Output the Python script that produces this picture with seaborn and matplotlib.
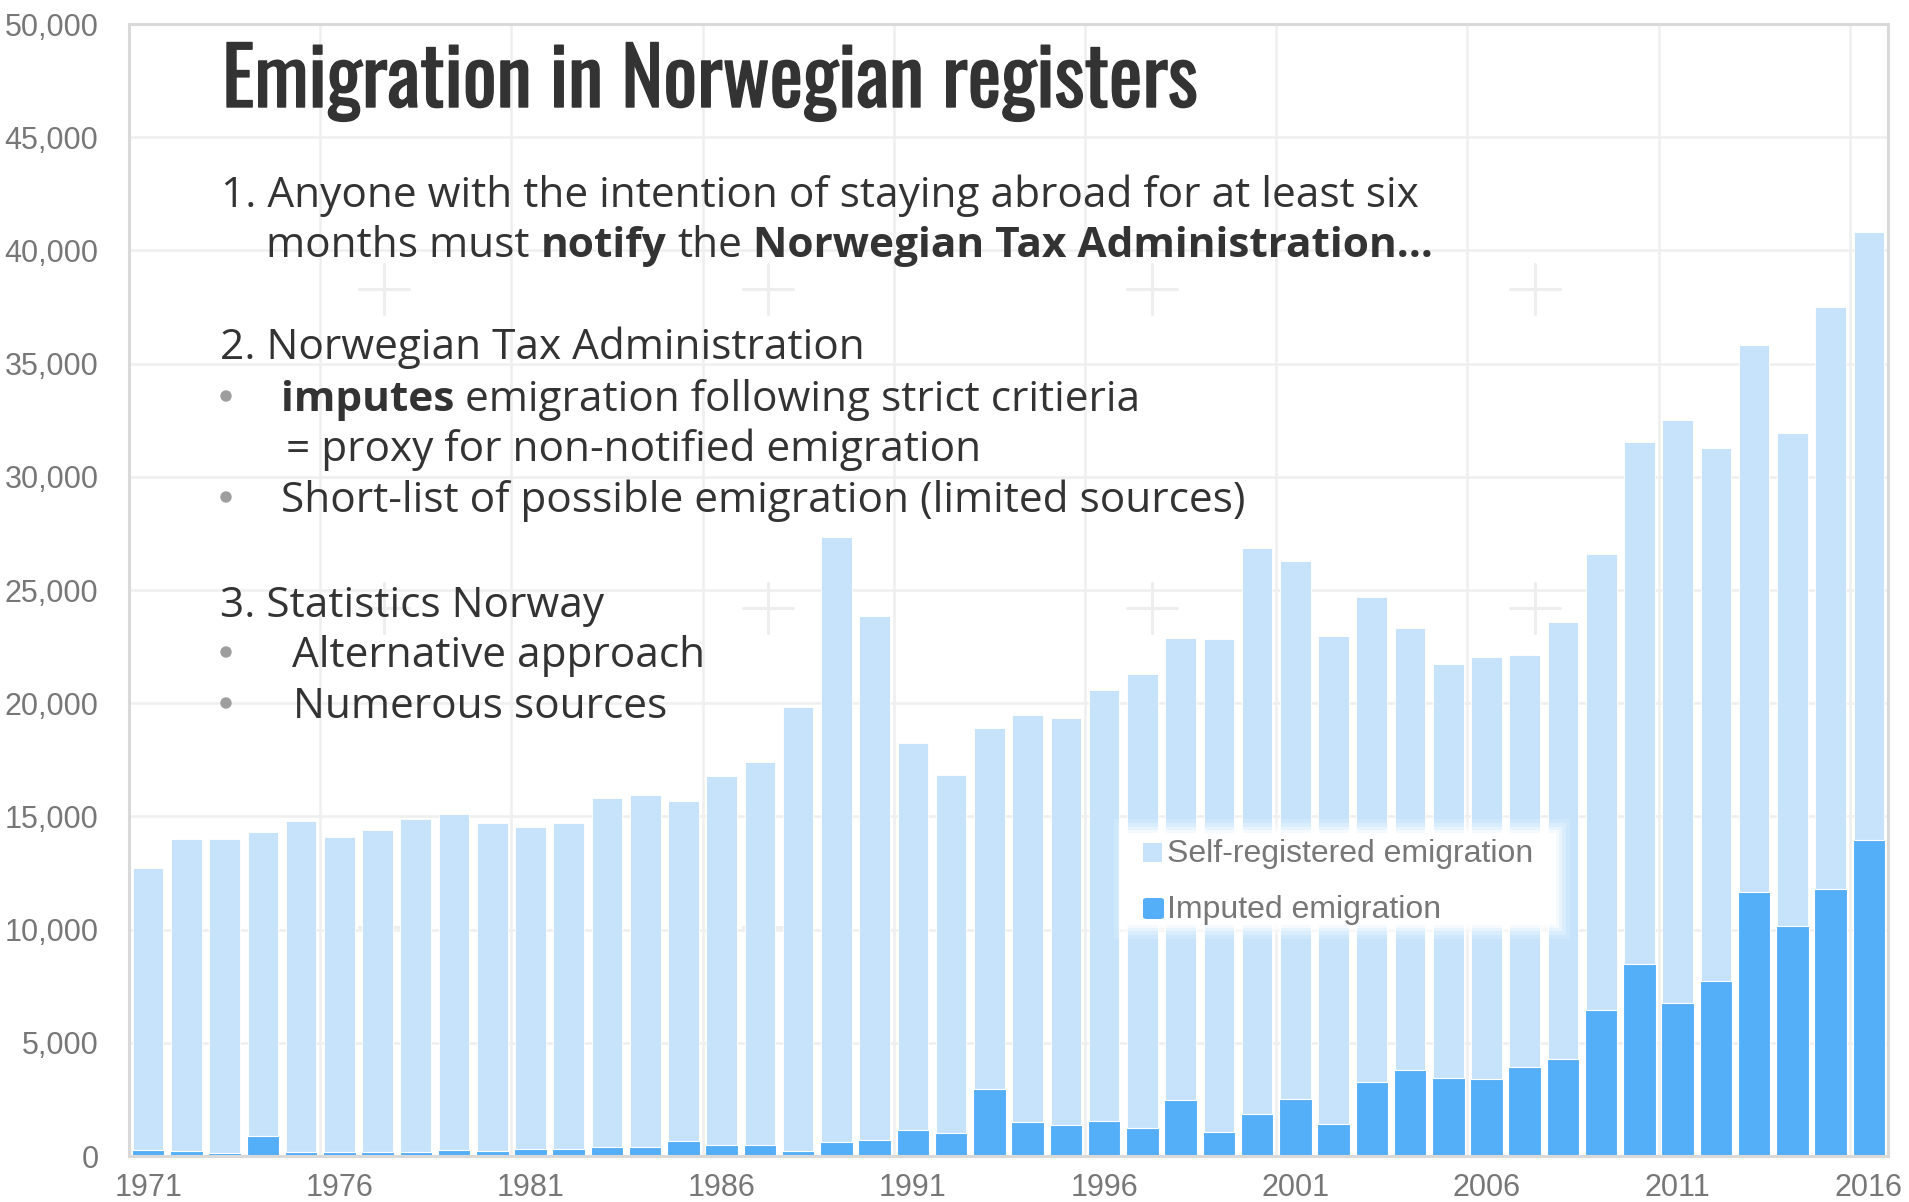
import matplotlib
matplotlib.use("Agg")
import matplotlib.pyplot as plt
import matplotlib.font_manager as fm
import matplotlib.patheffects as pe
from matplotlib.patches import FancyBboxPatch, Rectangle, Ellipse
import pandas as pd
import seaborn as sns

# data
years = list(range(1971, 2017))
self_registered = [12450, 13780, 13850, 13415, 14630, 13910, 14210, 14690, 14850, 14490,
                   14200, 14440, 15410, 15550, 14980, 16270, 16930, 19650, 26740, 23110,
                   17095, 15795, 15955, 18000, 17970, 19040, 20060, 20410, 21790, 25000,
                   23790, 21550, 21430, 19500, 18300, 18630, 18200, 19300, 20150, 23050,
                   25750, 23530, 24150, 21800, 25700, 26850]
imputed = [250, 220, 150, 885, 170, 170, 170, 180, 250, 240,
           330, 290, 390, 390, 680, 500, 470, 200, 610, 720,
           1165, 1015, 2965, 1500, 1370, 1560, 1220, 2490, 1060, 1850,
           2510, 1400, 3270, 3800, 3450, 3420, 3950, 4300, 6450, 8500,
           6750, 7750, 11650, 10150, 11800, 13950]
y_ticks = list(range(0, 50001, 5000))
x_label_years = [1971, 1976, 1981, 1986, 1991, 1996, 2001, 2006, 2011, 2016]

title = "Emigration in Norwegian registers"
legend_labels = ["Self-registered emigration", "Imputed emigration"]

LIGHT = "#c6e3fb"
DARK = "#55aef8"
GREY = "#777777"
TEXT = "#333333"

W, H = 1909, 1202
sns.set_theme(style="white")
plt.rcParams["font.family"] = ["Liberation Sans", "DejaVu Sans"]

fig = plt.figure(figsize=(W / 100, H / 100), dpi=100)
fig.patch.set_facecolor("white")


def fx(x):
    return x / W


def fy(y):
    return 1 - y / H


ax = fig.add_axes([fx(129), fy(1156), fx(1888) - fx(129), fy(24) - fy(1156)])

df = pd.DataFrame({"year": [str(y) for y in years],
                   "self": self_registered, "imputed": imputed})
df["total"] = df["self"] + df["imputed"]

# background "+" marks of the slide
for cx in [384, 768, 1152, 1535]:
    for cy in [289, 608, 927]:
        fig.add_artist(plt.Line2D([fx(cx - 25), fx(cx + 25)], [fy(cy), fy(cy)],
                                  color="#eeeeee", lw=2.2, zorder=0))
        fig.add_artist(plt.Line2D([fx(cx), fx(cx)], [fy(cy - 25), fy(cy + 25)],
                                  color="#eeeeee", lw=2.2, zorder=0))
ax.patch.set_alpha(0)

sns.barplot(data=df, x="year", y="total", color=LIGHT, saturation=1, width=0.8,
            edgecolor="white", linewidth=0.6, ax=ax, zorder=2)
sns.barplot(data=df, x="year", y="imputed", color=DARK, saturation=1, width=0.85,
            edgecolor="white", linewidth=0.8, ax=ax, zorder=3)

ax.set_xlim(-0.5, len(years) - 0.5)
ax.set_ylim(0, 50000)
ax.set_yticks(y_ticks)
ax.set_yticklabels([f"{v:,}" for v in y_ticks])
ax.set_xticks([years.index(y) for y in x_label_years])
ax.set_xticklabels([str(y) for y in x_label_years])
ax.set_xticks([i + 4.5 for i in range(0, 45, 5)], minor=True)
ax.set_xlabel("")
ax.set_ylabel("")
ax.grid(axis="y", which="major", color="#efefef", lw=1.8, zorder=0)
ax.grid(axis="x", which="minor", color="#efefef", lw=1.8, zorder=0)
ax.grid(axis="x", which="major", visible=False)
ax.set_axisbelow(True)
ax.tick_params(axis="y", which="major", direction="in", length=7, width=1.8,
               color="#dddddd", labelsize=22, labelcolor=GREY, pad=22)
ax.tick_params(axis="x", which="major", length=0, labelsize=22, labelcolor=GREY, pad=12)
ax.tick_params(axis="x", which="minor", length=0)
for s in ax.spines.values():
    s.set_color("#d9d9d9")
    s.set_linewidth(2.2)
    s.set_zorder(5)

# title in a condensed face
names = {f.name for f in fm.fontManager.ttflist}
tfam, tweight = ["Liberation Sans", "DejaVu Sans"], "bold"
for cand, wt in [("Oswald", 500), ("Barlow Condensed", "semibold"),
                 ("Roboto Condensed", "bold"), ("Archivo Narrow", "bold"),
                 ("Liberation Sans Narrow", "bold")]:
    if cand in names:
        tfam, tweight = [cand, "DejaVu Sans"], wt
        break
t = fig.text(fx(222), fy(107), title, fontsize=60, fontweight=tweight,
             family=tfam, color=TEXT, ha="left", va="baseline",
             path_effects=[pe.withStroke(linewidth=1.0, foreground=TEXT)])
r = fig.canvas.get_renderer()
w = t.get_window_extent(r).width
t.set_fontsize(60 * 976 / w)

BODY = ["Open Sans", "DejaVu Sans"]
BS = 30.5


def seg_line(x, y, parts):
    # parts: list of (text, bold), joined by single spaces
    for i, (s, b) in enumerate(parts):
        tt = fig.text(fx(x), fy(y), s, fontsize=BS, family=BODY, color=TEXT,
                      fontweight="bold" if b else "normal", ha="left", va="baseline")
        x = tt.get_window_extent(r).x1
        if i < len(parts) - 1:
            a = fig.text(0, 0, "n n", fontsize=BS, family=BODY)
            b2 = fig.text(0, 0, "nn", fontsize=BS, family=BODY)
            x += a.get_window_extent(r).width - b2.get_window_extent(r).width
            a.remove()
            b2.remove()


def bullet(y):
    fig.add_artist(Ellipse((fx(226), fy(y - 15)), 10 / W, 10 / H, color="#9e9e9e",
                           transform=fig.transFigure))


seg_line(221, 207, [("1. Anyone with the intention of staying abroad for at least six", False)])
seg_line(266, 257, [("months must", False), ("notify", True), ("the", False),
                    ("Norwegian Tax Administration…", True)])
seg_line(220, 359, [("2. Norwegian Tax Administration", False)])
bullet(411)
seg_line(281, 411, [("imputes", True), ("emigration following strict critieria", False)])
seg_line(286, 461, [("= proxy for non-notified emigration", False)])
bullet(512)
seg_line(281, 512, [("Short-list of possible emigration (limited sources)", False)])
seg_line(220, 617, [("3. Statistics Norway", False)])
bullet(667)
seg_line(292, 667, [("Alternative approach", False)])
bullet(718)
seg_line(293, 718, [("Numerous sources", False)])

# legend box with soft edge
for k, al in [(14, 0.15), (10, 0.25), (6, 0.4), (3, 0.6), (0, 1.0)]:
    fig.add_artist(FancyBboxPatch((fx(1128 - k), fy(925 + k)), fx(428 + 2 * k), (92 + 2 * k) / H,
                                  boxstyle="square,pad=0", fc="white", ec="none", alpha=al,
                                  transform=fig.transFigure, zorder=6))
fig.add_artist(Rectangle((fx(1143), fy(862)), fx(19), 19 / H, fc=LIGHT, ec="none",
                         transform=fig.transFigure, zorder=7))
fig.add_artist(FancyBboxPatch((fx(1143), fy(919)), fx(21), 21 / H,
                              boxstyle="round,pad=0,rounding_size=0.002", fc=DARK, ec="none",
                              transform=fig.transFigure, zorder=7))
fig.text(fx(1167), fy(862), legend_labels[0], fontsize=23, color=GREY, ha="left",
         va="baseline", zorder=8)
fig.text(fx(1167), fy(918), legend_labels[1], fontsize=23, color=GREY, ha="left",
         va="baseline", zorder=8)

fig.savefig("out.png", dpi=100, facecolor="white")
